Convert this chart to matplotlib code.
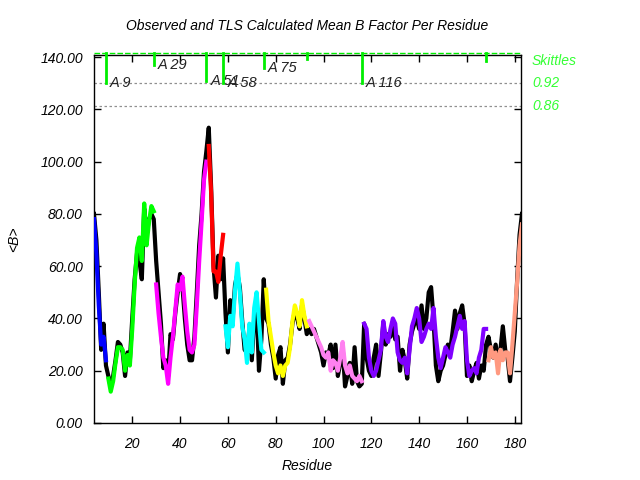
import matplotlib
matplotlib.use("Agg")
import matplotlib.pyplot as plt
import numpy as np

plt.rcParams["font.family"] = ["Liberation Sans", "DejaVu Sans"]
plt.rcParams["font.style"] = "italic"

# residue numbers
residues = np.arange(4, 184)

# observed mean B per residue (black)
observed = [
    80, 70, 50, 28, 38, 22, 18, 14, 18, 24,      # 4-13
    31, 30, 27, 18, 27, 24, 40, 55, 65, 62,      # 14-23
    55, 82, 72, 78, 80, 78, 62, 50, 38, 21,      # 24-33
    24, 18, 34, 32, 42, 50, 57, 52, 40, 30,      # 34-43
    24, 24, 33, 50, 68, 80, 96, 104, 113, 90,    # 44-53
    60, 48, 64, 55, 63, 42, 27, 47, 40, 53,      # 54-63
    57, 52, 39, 28, 27, 36, 24, 40, 46, 20,      # 64-73
    32, 55, 40, 38, 30, 25, 17, 26, 29, 15,      # 74-83
    24, 25, 30, 38, 43, 40, 36, 45, 40, 34,      # 84-93
    36, 34, 36, 33, 30, 27, 22, 27, 26, 30,      # 94-103
    21, 30, 18, 23, 29, 14, 18, 23, 15, 29,      # 104-113
    16, 14, 15, 38, 25, 20, 18, 25, 30, 18,      # 114-123
    27, 38, 30, 34, 33, 38, 32, 33, 20, 28,      # 124-133
    24, 17, 30, 35, 38, 40, 36, 45, 36, 40,      # 134-143
    50, 52, 40, 22, 16, 20, 22, 26, 30, 28,      # 144-153
    35, 43, 36, 42, 45, 38, 18, 22, 16, 20,      # 154-163
    23, 17, 22, 20, 30, 33, 28, 25, 30, 24,      # 164-173
    28, 37, 28, 25, 16, 25, 35, 55, 72, 80,      # 174-183
]

# TLS calculated mean B per residue (coloured by TLS group)
calculated = [
    78, 65, 45, 30, 33, 24,                                          # 4-9
    17, 12, 16, 23, 29, 29, 28, 20, 26, 22,                          # 10-19
    36, 53, 67, 71, 62, 84, 68, 77, 83, 81,                          # 20-29
    53, 42, 33, 25, 22, 15, 25, 33, 43, 53, 51,                      # 30-40
    56, 45, 35, 28, 27, 30, 45, 62, 77, 93, 100,                     # 41-51
    106, 88, 58, 58, 54, 64, 72,                                     # 52-58
    37, 29, 41, 37, 51, 61, 50, 37, 32, 23, 38, 27, 44, 50, 39, 28, 27,  # 59-75
    51, 39, 33, 27, 22, 19, 22, 18, 22, 23, 29, 39, 45, 42, 37, 47, 41, 37,  # 76-93
    39, 37, 35, 33, 31, 29, 26, 25, 27, 20, 24, 23,                  # 94-105
    20, 25, 31, 22, 19, 22, 18, 17, 16, 18, 16,                      # 106-116
    38, 36, 25, 20, 18, 20, 24, 28, 39, 33,                          # 117-126
    31, 36, 40, 38, 27, 24, 23, 25, 19, 28,                          # 127-136
    37, 40, 44, 40, 31, 33, 36, 38, 36, 44,                          # 137-146
    33, 25, 21, 25, 29, 27, 25, 30, 33, 37,                          # 147-156
    41, 36, 39, 24, 18, 20, 21, 19, 25, 28,                          # 157-166
    36, 36,                                                          # 167-168
    24, 29, 25, 27, 19, 28, 24, 27, 27, 19, 30, 42, 54, 68, 76,      # 169-183
]

# TLS groups: last residue of each group and its colour
group_ends = [9, 29, 51, 58, 75, 93, 116, 168, 183]
group_colors = ["#0000ff", "#00ff00", "#ff00ff", "#ff0000", "#00ffff",
                "#ffff00", "#ff80f0", "#8000ff", "#ff9980"]

# skittle markers along the top
skittle_res = [9, 29, 51, 58, 75, 93, 116, 168]
skittle_end = [130.0, 136.9, 130.9, 130.0, 136.0, 139.2, 130.0, 138.5]
skittle_labels = ["A 9", "A 29", "A 51", "A 58", "A 75", "", "A 116", ""]

fig = plt.figure(figsize=(6.4, 4.8), dpi=100)
ax = fig.add_axes([94 / 640, 57 / 480, 427 / 640, 368.5 / 480])

ax.plot(residues, observed, color="black", lw=3.0, zorder=2)

calc = np.array(calculated)
start = 4
for end, col in zip(group_ends, group_colors):
    m = (residues >= start) & (residues <= end)
    ax.plot(residues[m], calc[m], color=col, lw=3.0, zorder=3)
    start = end + 1

ax.set_xlim(4, 182.6)
ax.set_ylim(0, 141)

# dotted reference lines for the skittle scale
for yv in (130.0, 121.2):
    ax.axhline(yv, color="#909090", lw=0.9, ls=(0, (2, 2)), zorder=1)

# green dashed line on top of the frame
ax.plot([4, 182.6], [141.4, 141.4], color="#00ee00", lw=1.0,
        ls=(0, (4, 1.5)), clip_on=False, zorder=5)

for r, ye, lab in zip(skittle_res, skittle_end, skittle_labels):
    ax.plot([r, r], [141.4, ye], color="#00ee00", lw=2.0, clip_on=False, zorder=5)
    if lab:
        ax.annotate(lab, (r, ye), xytext=(3, 0), textcoords="offset points",
                    ha="left", va="center", fontsize=10.5, color="#222222")

# right side skittle scale labels
for yv, lab in [(138.4, "Skittles"), (130.0, "0.92"), (121.2, "0.86")]:
    ax.text(1.026, yv, lab, transform=ax.get_yaxis_transform(), ha="left",
            va="center", fontsize=10, color="#33ff33")

ax.set_xticks(np.arange(20, 181, 20))
ax.set_yticks(np.arange(0, 141, 20))
ax.set_yticklabels([f"{v:.2f}" for v in np.arange(0, 141, 20)])
ax.tick_params(direction="in", top=True, right=True, length=5, width=1,
               labelsize=10, pad=8)
ax.tick_params(axis="x", pad=10)
for s in ax.spines.values():
    s.set_linewidth(1.0)

ax.set_xlabel("Residue", fontsize=10, labelpad=6)
ax.set_ylabel("<B>", fontsize=10, labelpad=14)
fig.text(307.5 / 640, 1 - 26 / 480, "Observed and TLS Calculated Mean B Factor Per Residue",
         ha="center", va="center", fontsize=10)

fig.savefig("out.png", dpi=100)
